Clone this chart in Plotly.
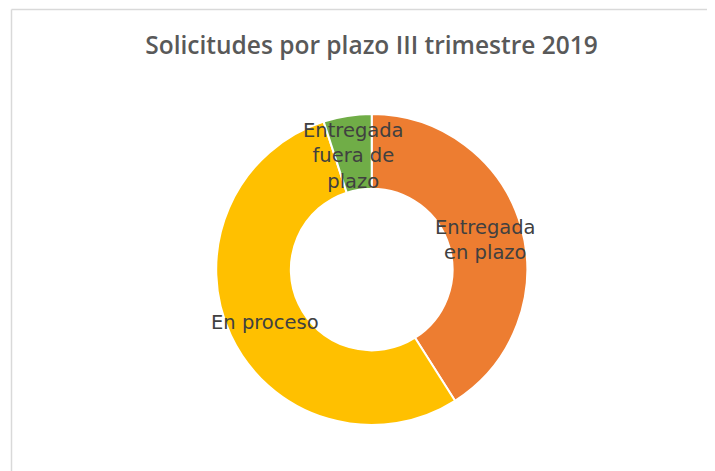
import math
import plotly.graph_objects as go

categories = ["Entregada en plazo", "En proceso", "Entregada fuera de plazo"]
label_text = ["Entregada<br>en plazo", "En proceso", "Entregada<br>fuera de<br>plazo"]
values = [41, 54, 5]
colors = ["#ED7D31", "#FFC000", "#70AD47"]
title_text = "Solicitudes por plazo III trimestre 2019"

W, H = 715, 471
OFF = 8  # page body margin offset
cx, cy, R = 371.7 - OFF, 269.5 - OFF, 155.5
HOLE = 0.52

fig = go.Figure(go.Pie(
    labels=categories,
    values=values,
    hole=HOLE,
    sort=False,
    direction="clockwise",
    rotation=0,
    marker=dict(colors=colors, line=dict(color="white", width=2)),
    textinfo="none",
    hoverinfo="label+percent",
    domain=dict(x=[(cx - R) / W, (cx + R) / W],
                y=[(H - cy - R) / H, (H - cy + R) / H]),
    showlegend=False,
))

# labels at slice centroids (mid-ring), computed from the data
total = sum(values)
r_mid = R * (1 + HOLE) / 2
annotations = []
cum = 0
for txt, v in zip(label_text, values):
    ang = math.radians((cum + v / 2) / total * 360)
    cum += v
    px = cx + r_mid * math.sin(ang)
    py = cy - r_mid * math.cos(ang) + 3
    annotations.append(dict(
        text=txt, x=px / W, y=1 - py / H, xref="paper", yref="paper",
        showarrow=False, xanchor="center", yanchor="middle",
        font=dict(family="DejaVu Sans, sans-serif", size=19.5, color="#404040"),
    ))

fig.update_layout(
    width=W, height=H,
    margin=dict(l=0, r=0, t=0, b=0),
    paper_bgcolor="white",
    annotations=annotations,
    title=dict(text=title_text, x=(371.5 - OFF) / W, xanchor="center",
               y=1 - (45 - OFF) / H, yanchor="middle",
               font=dict(family="Open Sans, sans-serif", size=24.5, color="#595959", weight=600)),
    shapes=[
        dict(type="line", xref="paper", yref="paper",
             x0=(11.5 - OFF) / W, x1=1, y0=1 - (9.5 - OFF) / H, y1=1 - (9.5 - OFF) / H,
             line=dict(color="#d9d9d9", width=1.5)),
        dict(type="line", xref="paper", yref="paper",
             x0=(11.5 - OFF) / W, x1=(11.5 - OFF) / W, y0=0, y1=1 - (9.5 - OFF) / H,
             line=dict(color="#d9d9d9", width=1.5)),
    ],
)

fig.write_html("out.html")
